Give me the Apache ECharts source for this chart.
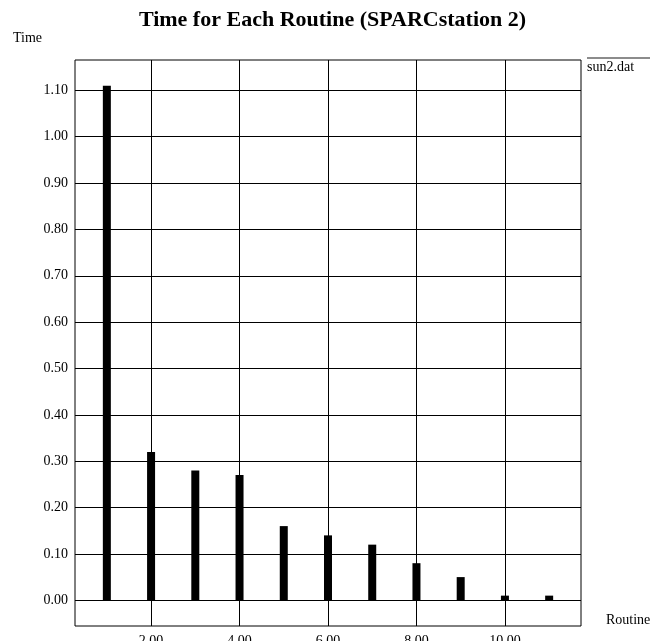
<!DOCTYPE html>
<html>
<head>
<meta charset="utf-8">
<script src="https://cdn.jsdelivr.net/npm/echarts@6/dist/echarts.min.js"></script>
<style>
  html, body { margin: 0; padding: 0; background: #fff; }
  #chart { width: 665px; height: 641px; }
</style>
</head>
<body>
<div id="chart"></div>
<script>
// Routine number and its measured time
const routines = [1, 2, 3, 4, 5, 6, 7, 8, 9, 10, 11];
const times = [1.11, 0.32, 0.28, 0.27, 0.16, 0.14, 0.12, 0.08, 0.05, 0.01, 0.01];

// Tick positions on each axis
const xTicks = [2, 4, 6, 8, 10];
const yTicks = [0, 0.1, 0.2, 0.3, 0.4, 0.5, 0.6, 0.7, 0.8, 0.9, 1.0, 1.1];

const serif = '"Liberation Serif", "DejaVu Serif", serif';

const chart = echarts.init(document.getElementById('chart'), null, { renderer: 'canvas' });

chart.setOption({
  animation: false,
  backgroundColor: '#ffffff',
  title: {
    text: 'Time for Each Routine (SPARCstation 2)',
    left: 'center',
    top: 4,
    textStyle: { fontFamily: serif, fontSize: 22, fontWeight: 'bold', color: '#000' }
  },
  grid: {
    left: 75, right: 84, top: 60, bottom: 15,
    containLabel: false,
    outerBoundsMode: 'none',
    show: true, borderColor: '#000', borderWidth: 1, backgroundColor: 'transparent'
  },
  xAxis: {
    type: 'value',
    min: 0.28, max: 11.72,
    axisLine: { show: false },
    axisTick: { show: false, customValues: xTicks },
    axisLabel: {
      customValues: xTicks,
      margin: 8,
      fontFamily: serif, fontSize: 14, color: '#000',
      formatter: v => v.toFixed(2)
    },
    splitLine: { show: true, lineStyle: { color: '#000', width: 1 } }
  },
  yAxis: {
    type: 'value',
    min: -0.0555, max: 1.1655,
    axisLine: { show: false },
    axisTick: { show: false, customValues: yTicks },
    axisLabel: {
      customValues: yTicks,
      margin: 7,
      fontFamily: serif, fontSize: 14, color: '#000',
      formatter: v => v.toFixed(2)
    },
    splitLine: { show: true, lineStyle: { color: '#000', width: 1 } }
  },
  graphic: [
    { type: 'text', left: 13, top: 31, style: { text: 'Time', font: '14px ' + serif, fill: '#000' } },
    { type: 'text', left: 606, top: 613, style: { text: 'Routine', font: '14px ' + serif, fill: '#000' } },
    { type: 'line', shape: { x1: 587, y1: 58, x2: 650, y2: 58 }, style: { stroke: '#666', lineWidth: 1.5 } },
    { type: 'text', left: 587, top: 60, style: { text: 'sun2.dat', font: '14px ' + serif, fill: '#000' } }
  ],
  series: [{
    name: 'sun2.dat',
    type: 'bar',
    barWidth: 8,
    itemStyle: { color: '#000' },
    data: routines.map((r, i) => [r, times[i]])
  }]
});
</script>
</body>
</html>
